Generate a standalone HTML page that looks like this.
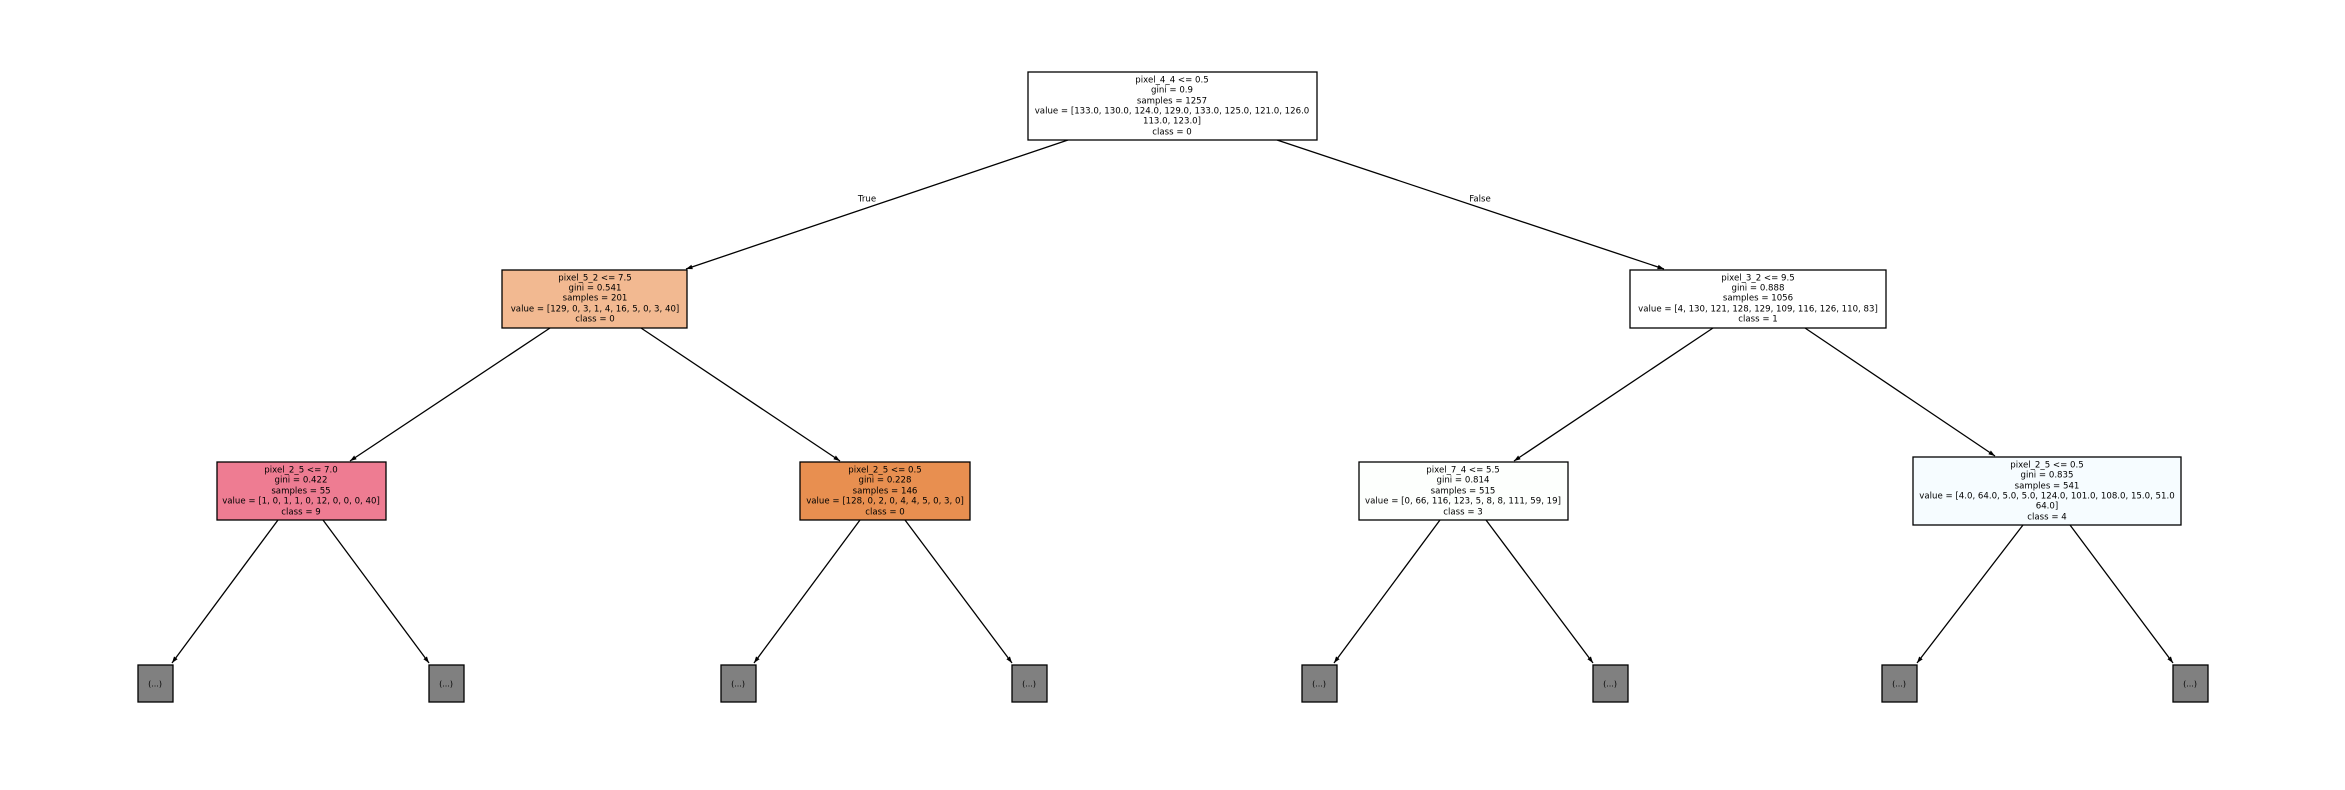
<!DOCTYPE html>
<html><head><meta charset="utf-8"><style>html,body{margin:0;padding:0;background:#fff}svg{display:block}</style></head>
<body>
<svg width="2345" height="790" viewBox="0 0 2345 790" xmlns="http://www.w3.org/2000/svg" font-family="DejaVu Sans, Liberation Sans, sans-serif" font-size="8.6" fill="#000">
<defs><marker id="a" viewBox="0 0 10 10" refX="10" refY="5" markerWidth="5" markerHeight="5" orient="auto"><path d="M0,1.5 L10,5 L0,8.5 z" fill="#000"/></marker></defs>
<g stroke="#000" stroke-width="1.3" marker-end="url(#a)">
<line x1="1068" y1="140" x2="686" y2="269"/>
<line x1="1277" y1="140" x2="1664" y2="269"/>
<line x1="550" y1="328" x2="350" y2="461"/>
<line x1="641" y1="328" x2="840" y2="461"/>
<line x1="1713" y1="328" x2="1514" y2="461"/>
<line x1="1805" y1="328" x2="1995" y2="456"/>
<line x1="278" y1="520" x2="172" y2="663"/>
<line x1="323" y1="520" x2="429" y2="663"/>
<line x1="860" y1="520" x2="754" y2="663"/>
<line x1="905" y1="520" x2="1012" y2="663"/>
<line x1="1440" y1="520" x2="1334" y2="663"/>
<line x1="1486" y1="520" x2="1593" y2="663"/>
<line x1="2023" y1="525" x2="1917" y2="663"/>
<line x1="2070" y1="525" x2="2173" y2="663"/>
</g>
<g stroke="#000" stroke-width="1.3">
<rect x="1028" y="72" width="289" height="68" fill="#fff"/>
<rect x="502" y="270" width="185" height="58" fill="#f2b991"/>
<rect x="217" y="462" width="169" height="58" fill="#ee7c92"/>
<rect x="800" y="462" width="170" height="58" fill="#e88f50"/>
<rect x="1630" y="270" width="256" height="58" fill="#fff"/>
<rect x="1359" y="462" width="209" height="58" fill="#fdfffd"/>
<rect x="1913" y="457" width="268" height="68" fill="#f6fcff"/>
<g fill="#808080">
<rect x="138" y="665" width="35" height="37"/><rect x="429" y="665" width="35" height="37"/>
<rect x="721" y="665" width="35" height="37"/><rect x="1012" y="665" width="35" height="37"/>
<rect x="1302" y="665" width="35" height="37"/><rect x="1593" y="665" width="35" height="37"/>
<rect x="1882" y="665" width="35" height="37"/><rect x="2173" y="665" width="35" height="37"/>
</g>
</g>
<g text-anchor="middle" dominant-baseline="middle">
<text x="1172" y="80">pixel_4_4 &lt;= 0.5</text>
<text x="1172" y="90">gini = 0.9</text>
<text x="1172" y="101">samples = 1257</text>
<text x="1172" y="111">value = [133.0, 130.0, 124.0, 129.0, 133.0, 125.0, 121.0, 126.0</text>
<text x="1172" y="121">113.0, 123.0]</text>
<text x="1172" y="132">class = 0</text>

<text x="595" y="278">pixel_5_2 &lt;= 7.5</text>
<text x="595" y="288">gini = 0.541</text>
<text x="595" y="298">samples = 201</text>
<text x="595" y="309">value = [129, 0, 3, 1, 4, 16, 5, 0, 3, 40]</text>
<text x="595" y="319">class = 0</text>

<text x="301" y="470">pixel_2_5 &lt;= 7.0</text>
<text x="301" y="480">gini = 0.422</text>
<text x="301" y="491">samples = 55</text>
<text x="301" y="501">value = [1, 0, 1, 1, 0, 12, 0, 0, 0, 40]</text>
<text x="301" y="512">class = 9</text>

<text x="885" y="470">pixel_2_5 &lt;= 0.5</text>
<text x="885" y="480">gini = 0.228</text>
<text x="885" y="491">samples = 146</text>
<text x="885" y="501">value = [128, 0, 2, 0, 4, 4, 5, 0, 3, 0]</text>
<text x="885" y="512">class = 0</text>

<text x="1758" y="278">pixel_3_2 &lt;= 9.5</text>
<text x="1758" y="288">gini = 0.888</text>
<text x="1758" y="298">samples = 1056</text>
<text x="1758" y="309">value = [4, 130, 121, 128, 129, 109, 116, 126, 110, 83]</text>
<text x="1758" y="319">class = 1</text>

<text x="1463" y="470">pixel_7_4 &lt;= 5.5</text>
<text x="1463" y="480">gini = 0.814</text>
<text x="1463" y="491">samples = 515</text>
<text x="1463" y="501">value = [0, 66, 116, 123, 5, 8, 8, 111, 59, 19]</text>
<text x="1463" y="512">class = 3</text>

<text x="2047" y="465">pixel_2_5 &lt;= 0.5</text>
<text x="2047" y="475">gini = 0.835</text>
<text x="2047" y="486">samples = 541</text>
<text x="2047" y="496">value = [4.0, 64.0, 5.0, 5.0, 124.0, 101.0, 108.0, 15.0, 51.0</text>
<text x="2047" y="506">64.0]</text>
<text x="2047" y="517">class = 4</text>

<text x="867" y="199">True</text>
<text x="1480" y="199">False</text>

<g font-size="8">
<text x="155" y="684">(...)</text><text x="446" y="684">(...)</text>
<text x="738" y="684">(...)</text><text x="1029" y="684">(...)</text>
<text x="1319" y="684">(...)</text><text x="1610" y="684">(...)</text>
<text x="1899" y="684">(...)</text><text x="2190" y="684">(...)</text>
</g>
</g>
</svg>
</body></html>
